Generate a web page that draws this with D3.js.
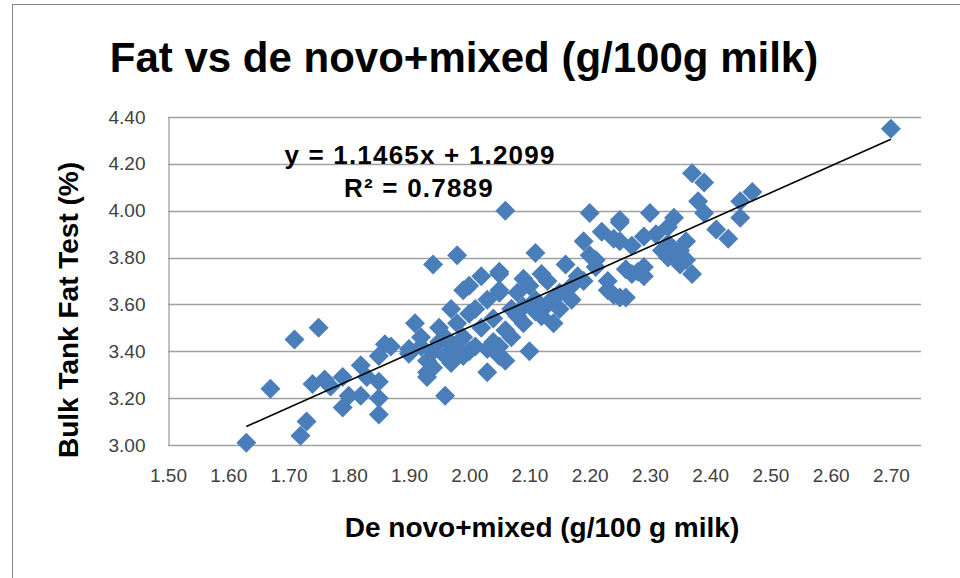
<!DOCTYPE html>
<html>
<head>
<meta charset="utf-8">
<script src="https://cdn.jsdelivr.net/npm/d3@7"></script>
<style>
  body { margin: 0; background: #fff; }
  svg text { font-family: "Liberation Sans", Arial, sans-serif; }
</style>
</head>
<body>
<div id="chart"></div>
<script>
// values
deNovo = [1.63,1.72,1.73,1.67,1.71,1.75,1.74,1.76,1.79,1.77,1.82,1.80,1.79,1.82,1.85,1.85,1.85,1.86,1.85,1.83,1.87,
  1.94,1.98,1.91,1.90,1.92,1.93,1.93,1.93,1.96,1.97,1.95,1.96,1.99,2.00,2.02,2.05,2.05,2.03,2.03,2.06,2.07,1.98,2.01,
  1.94,1.95,1.96,1.98,1.99,2.00,2.02,1.90,1.92,1.97,1.99,2.00,2.04,1.94,1.97,
  2.06,2.20,2.25,2.22,2.24,2.19,2.11,2.20,2.21,2.26,2.16,2.23,2.25,2.05,2.09,2.12,2.17,2.15,2.11,2.08,2.05,2.07,2.09,
  2.13,2.17,2.14,2.10,2.06,2.05,2.05,2.09,2.07,2.12,2.10,2.13,2.08,2.11,2.14,2.18,2.19,2.15,2.03,2.01,2.04,
  2.37,2.39,2.47,2.45,2.38,2.39,2.45,2.30,2.34,2.25,2.33,2.41,2.43,2.36,2.29,2.25,2.31,2.32,2.35,2.36,2.37,2.35,2.29,
  2.27,2.24,2.26,2.29,2.33,2.70,2.28,2.23,2.21,2.33,2.27]
fatTest = [3.01,3.04,3.10,3.24,3.45,3.50,3.26,3.28,3.29,3.25,3.34,3.21,3.16,3.21,3.20,3.13,3.27,3.43,3.38,3.29,3.42,
  3.77,3.81,3.52,3.39,3.46,3.36,3.31,3.29,3.21,3.58,3.50,3.46,3.46,3.68,3.72,3.73,3.65,3.31,3.41,3.36,3.58,3.41,3.42,
  3.40,3.44,3.38,3.52,3.66,3.56,3.50,3.41,3.42,3.35,3.38,3.40,3.44,3.33,3.43,
  4.00,3.99,3.96,3.91,3.88,3.87,3.82,3.81,3.76,3.75,3.77,3.66,3.63,3.74,3.71,3.73,3.68,3.65,3.62,3.65,3.66,3.58,3.59,
  3.60,3.62,3.52,3.40,3.49,3.42,3.38,3.52,3.46,3.55,3.68,3.70,3.55,3.57,3.63,3.72,3.70,3.58,3.62,3.58,3.54,
  4.16,4.12,4.08,4.04,4.04,3.99,3.97,3.99,3.97,3.95,3.93,3.92,3.88,3.87,3.89,3.87,3.90,3.83,3.83,3.79,3.73,3.77,3.76,
  3.73,3.64,3.63,3.72,3.80,4.35,3.74,3.70,3.79,3.86,3.85]
xTicks = [1.5,1.6,1.7,1.8,1.9,2.0,2.1,2.2,2.3,2.4,2.5,2.6,2.7]
yTicks = [3.0,3.2,3.4,3.6,3.8,4.0,4.2,4.4]
slope = 1.1465, intercept = 1.2099, r2 = 0.7889

data = deNovo.map((d, i) => ({x: d, y: fatTest[i]}))

width = 960, height = 578
margin = {top: 117, right: 39, bottom: 133, left: 168}

svg = d3.select("#chart")
  .append("svg")
  .attr("width", width)
  .attr("height", height)

// outer chart frame
svg.append("rect")
  .attr("x", 12.5).attr("y", 4.5)
  .attr("width", width).attr("height", height)
  .attr("fill", "#fff")
  .attr("stroke", "#868686")

x = d3.scaleLinear().domain([1.5, 2.75]).range([margin.left, width - margin.right])
y = d3.scaleLinear().domain([3.0, 4.4]).range([height - margin.bottom, margin.top])

// horizontal gridlines
svg.append("g")
  .selectAll("line")
  .data(yTicks)
  .join("line")
    .attr("x1", x(1.5)).attr("x2", x(2.75))
    .attr("y1", d => Math.round(y(d)) + 0.5).attr("y2", d => Math.round(y(d)) + 0.5)
    .attr("stroke", "#a0a0a0")
    .attr("stroke-width", 1.3)

// y axis
yAxis = svg.append("g")
  .attr("transform", `translate(${Math.round(x(1.5)) + 0.5}, 0)`)
  .call(d3.axisLeft(y).tickValues(yTicks).tickFormat(d3.format(".2f")).tickSize(0).tickPadding(23))
yAxis.select(".domain").attr("stroke", "#a0a0a0").attr("stroke-width", 1.3)
yAxis.selectAll("text").style("font-size", "19px").attr("fill", "#404040")

// x axis labels
xAxis = svg.append("g")
  .attr("transform", `translate(0, ${y(3.0)})`)
  .call(d3.axisBottom(x).tickValues(xTicks).tickFormat(d3.format(".2f")).tickSize(0).tickPadding(24))
xAxis.select(".domain").remove()
xAxis.selectAll("text").style("font-size", "19px").attr("fill", "#404040")

// diamonds
diamond = d3.symbol().type(d3.symbolSquare).size(200)
svg.append("g")
  .selectAll("path")
  .data(data)
  .join("path")
    .attr("d", diamond)
    .attr("transform", d => `translate(${x(d.x)}, ${y(d.y)}) rotate(45)`)
    .attr("fill", "#4a7ebb")

// linear trendline
xExt = d3.extent(deNovo)
svg.append("line")
  .attr("x1", x(xExt[0])).attr("y1", y(slope * xExt[0] + intercept))
  .attr("x2", x(xExt[1])).attr("y2", y(slope * xExt[1] + intercept))
  .attr("stroke", "#000")
  .attr("stroke-width", 1.6)

// equation
svg.append("text")
  .attr("x", 420).attr("y", 164)
  .attr("text-anchor", "middle")
  .style("font-size", "26px").style("font-weight", "bold").style("letter-spacing", "1.2px")
  .text(`y = ${slope}x + ${intercept}`)
svg.append("text")
  .attr("x", 419).attr("y", 197)
  .attr("text-anchor", "middle")
  .style("font-size", "26px").style("font-weight", "bold").style("letter-spacing", "1.2px")
  .text(`R² = ${r2}`)

// titles
svg.append("text")
  .attr("x", 464).attr("y", 72)
  .attr("text-anchor", "middle")
  .style("font-size", "42px").style("font-weight", "bold")
  .text("Fat vs de novo+mixed (g/100g milk)")

svg.append("text")
  .attr("x", 542).attr("y", 537)
  .attr("text-anchor", "middle")
  .style("font-size", "28px").style("font-weight", "bold")
  .text("De novo+mixed (g/100 g milk)")

svg.append("text")
  .attr("transform", "translate(78, 310) rotate(-90)")
  .attr("text-anchor", "middle")
  .style("font-size", "28px").style("font-weight", "bold")
  .text("Bulk Tank Fat Test (%)")
</script>
</body>
</html>
